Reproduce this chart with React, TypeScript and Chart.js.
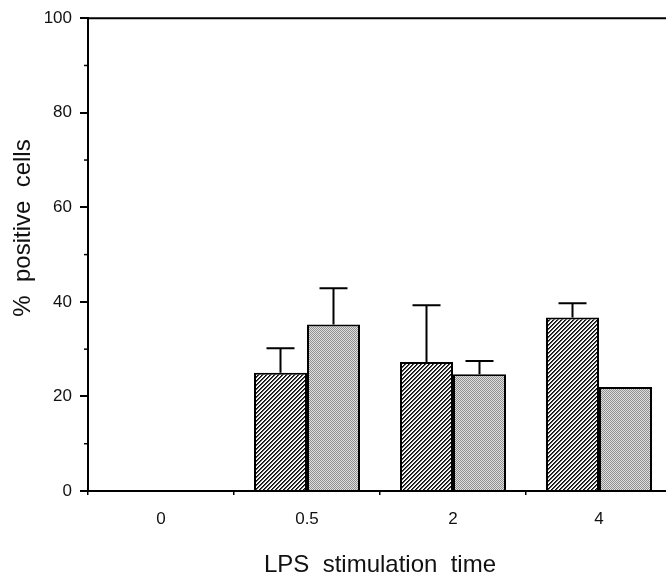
import React, { useEffect, useRef } from "react";
import { Chart, registerables } from "chart.js";
Chart.register(...registerables);

const categories = ["0", "0.5", "2", "4"];
const hatchedValues = [0, 25.0, 27.3, 36.7];
const stippledValues = [0, 35.2, 24.7, 22.0];
const hatchedErrorTop: (number | null)[] = [null, 30.2, 39.3, 39.7];
const stippledErrorTop: (number | null)[] = [null, 42.9, 27.5, null];
const yTicks = [0, 20, 40, 60, 80, 100];
const yMinorTicks = [10, 30, 50, 70, 90];
const xTitle = "LPS  stimulation  time";
const yTitle = "%  positive  cells";

const FONT = "'Liberation Sans', Arial, Helvetica, sans-serif";
const W = 720;
const H = 577;

function makeHatch(): CanvasPattern | string {
  const c = document.createElement("canvas");
  c.width = 8;
  c.height = 8;
  const ctx = c.getContext("2d");
  if (!ctx) return "#888";
  const img = ctx.createImageData(8, 8);
  for (let y = 0; y < 8; y++) {
    for (let x = 0; x < 8; x++) {
      const k = (x + y) % 4;
      const v = k === 0 ? 10 : k === 1 ? 70 : k === 2 ? 235 : 255;
      const i = (y * 8 + x) * 4;
      img.data[i] = v;
      img.data[i + 1] = v;
      img.data[i + 2] = v;
      img.data[i + 3] = 255;
    }
  }
  ctx.putImageData(img, 0, 0);
  return ctx.createPattern(c, "repeat") || "#888";
}

function makeStipple(): CanvasPattern | string {
  const c = document.createElement("canvas");
  c.width = 2;
  c.height = 2;
  const ctx = c.getContext("2d");
  if (!ctx) return "#bbb";
  const img = ctx.createImageData(2, 2);
  for (let y = 0; y < 2; y++) {
    for (let x = 0; x < 2; x++) {
      const v = (x + y) % 2 === 0 ? 145 : 222;
      const i = (y * 2 + x) * 4;
      img.data[i] = v;
      img.data[i + 1] = v;
      img.data[i + 2] = v;
      img.data[i + 3] = 255;
    }
  }
  ctx.putImageData(img, 0, 0);
  return ctx.createPattern(c, "repeat") || "#bbb";
}

const decorPlugin = {
  id: "decor",
  afterDraw(chart: any) {
    const { ctx, chartArea, scales } = chart;
    const ys = scales.y;
    ctx.save();
    ctx.strokeStyle = "#000";
    ctx.lineWidth = 2;
    ctx.beginPath();
    ctx.moveTo(chartArea.left - 1, chartArea.top);
    ctx.lineTo(chart.width, chartArea.top);
    ctx.stroke();
    ctx.lineWidth = 1.5;
    yMinorTicks.forEach((v) => {
      const py = ys.getPixelForValue(v);
      ctx.beginPath();
      ctx.moveTo(chartArea.left - 4, py);
      ctx.lineTo(chartArea.left, py);
      ctx.stroke();
    });
    ctx.fillStyle = "#111";
    ctx.font = `24px ${FONT}`;
    ctx.textAlign = "center";
    ctx.textBaseline = "middle";
    ctx.translate(23, 228);
    ctx.rotate(-Math.PI / 2);
    ctx.fillText(yTitle, 0, 0);
    ctx.restore();
  },
  afterDatasetsDraw(chart: any) {
    const { ctx, scales } = chart;
    const ys = scales.y;
    const errs = [hatchedErrorTop, stippledErrorTop];
    const vals = [hatchedValues, stippledValues];
    ctx.save();
    ctx.strokeStyle = "#000";
    ctx.lineWidth = 2;
    errs.forEach((arr, di) => {
      const meta = chart.getDatasetMeta(di);
      arr.forEach((e, j) => {
        if (e == null) return;
        const bar = meta.data[j];
        const x = bar.x;
        const y0 = ys.getPixelForValue(vals[di][j]);
        const y1 = ys.getPixelForValue(e);
        ctx.beginPath();
        ctx.moveTo(x, y0);
        ctx.lineTo(x, y1);
        ctx.moveTo(x - 14, y1);
        ctx.lineTo(x + 14, y1);
        ctx.stroke();
      });
    });
    ctx.restore();
  },
};

export default function App() {
  const ref = useRef<HTMLCanvasElement | null>(null);

  useEffect(() => {
    if (!ref.current) return;
    const hatch = makeHatch();
    const stipple = makeStipple();
    const chart = new Chart(ref.current, {
      type: "bar",
      data: {
        labels: categories,
        datasets: [
          {
            label: "hatched",
            data: hatchedValues,
            backgroundColor: hatch as any,
            borderColor: "#000",
            borderWidth: 2,
            borderSkipped: "start",
            categoryPercentage: 0.726,
            barPercentage: 1.0,
          },
          {
            label: "stippled",
            data: stippledValues,
            backgroundColor: stipple as any,
            borderColor: "#000",
            borderWidth: 2,
            borderSkipped: "start",
            categoryPercentage: 0.726,
            barPercentage: 1.0,
          },
        ],
      },
      options: {
        responsive: false,
        animation: false,
        devicePixelRatio: 1,
        layout: { padding: { top: 18, right: W - 672, left: 0, bottom: 0 } },
        plugins: {
          legend: { display: false },
          tooltip: { enabled: false },
        },
        scales: {
          x: {
            type: "category",
            grid: {
              display: true,
              drawOnChartArea: false,
              drawTicks: true,
              tickLength: 4,
              color: "#000",
              lineWidth: 1.5,
              offset: true,
            },
            border: { display: true, color: "#000", width: 2 },
            ticks: {
              color: "#111",
              font: { family: FONT, size: 17 },
              padding: 14,
              maxRotation: 0,
            },
            title: {
              display: true,
              text: xTitle,
              color: "#111",
              font: { family: FONT, size: 24, lineHeight: 0.95 },
              padding: { top: 0, bottom: 0 },
            },
            afterFit: (s: any) => {
              s.height = H - 491;
            },
          },
          y: {
            min: 0,
            max: 100,
            afterBuildTicks: (s: any) => {
              s.ticks = yTicks.map((v) => ({ value: v }));
            },
            grid: {
              display: true,
              drawOnChartArea: false,
              drawTicks: true,
              tickLength: 8,
              color: "#000",
              lineWidth: 2,
            },
            border: { display: true, color: "#000", width: 2 },
            ticks: {
              color: "#111",
              font: { family: FONT, size: 17 },
              padding: 8,
            },
            afterFit: (s: any) => {
              s.width = 88;
            },
          },
        },
      },
      plugins: [decorPlugin],
    });
    return () => chart.destroy();
  }, []);

  return (
    <div
      style={{
        position: "fixed",
        left: 0,
        top: 0,
        width: 666,
        height: 577,
        overflow: "hidden",
        background: "#fff",
      }}
    >
      <canvas ref={ref} width={W} height={H} style={{ display: "block" }} />
    </div>
  );
}
